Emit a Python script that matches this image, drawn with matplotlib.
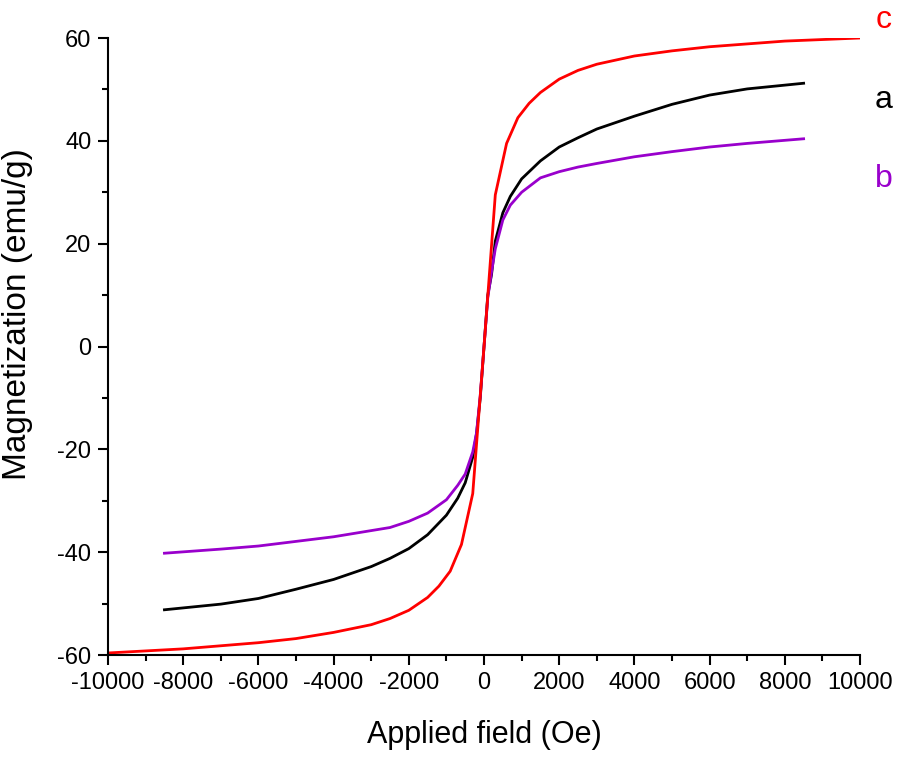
import matplotlib as mpl
mpl.use('Agg')
import matplotlib.pyplot as plt
from matplotlib.ticker import MultipleLocator

plt.rcParams['font.family'] = ['Liberation Sans', 'DejaVu Sans']
plt.rcParams['axes.unicode_minus'] = False

# sample a (black)
a_x = [-8500, -7000, -6000, -5000, -4000, -3000, -2500, -2000, -1500, -1000, -700, -500, -300, -200, -100,
       0, 100, 200, 300, 500, 700, 1000, 1500, 2000, 2500, 3000, 4000, 5000, 6000, 7000, 8500]
a_y = [-51.2, -50.1, -49.0, -47.2, -45.3, -42.8, -41.2, -39.3, -36.6, -32.8, -29.5, -26.5, -21.5, -17.0, -10.0,
       0.0, 10.0, 14.0, 20.5, 26.0, 29.2, 32.6, 36.1, 38.8, 40.6, 42.3, 44.8, 47.1, 48.9, 50.1, 51.2]

# sample b (purple)
b_x = [-8500, -7000, -6000, -5000, -4000, -3000, -2500, -2000, -1500, -1000, -700, -500, -300, -200, -100,
       0, 100, 200, 300, 500, 700, 1000, 1500, 2000, 2500, 3000, 4000, 5000, 6000, 7000, 8500]
b_y = [-40.2, -39.4, -38.8, -37.9, -37.0, -35.8, -35.2, -34.0, -32.4, -29.8, -27.0, -24.8, -20.5, -16.8, -9.5,
       0.0, 9.5, 14.5, 19.0, 24.6, 27.5, 30.0, 32.8, 34.0, 34.9, 35.6, 36.9, 37.9, 38.8, 39.5, 40.4]

# sample c (red)
c_x = [-10000, -8000, -6000, -5000, -4000, -3000, -2500, -2000, -1500, -1200, -900, -600, -300,
       0, 300, 600, 900, 1200, 1500, 2000, 2500, 3000, 4000, 5000, 6000, 8000, 10000]
c_y = [-59.6, -58.8, -57.6, -56.8, -55.6, -54.1, -52.9, -51.3, -48.8, -46.6, -43.7, -38.5, -28.6,
       0.0, 29.5, 39.5, 44.5, 47.3, 49.4, 52.0, 53.7, 54.9, 56.5, 57.5, 58.3, 59.4, 60.0]

fig = plt.figure(figsize=(8.98, 7.57), dpi=100)
ax = fig.add_axes([0.1203, 0.1347, 0.8374, 0.8151])

ax.plot(a_x, a_y, color='black', lw=2)
ax.plot(b_x, b_y, color='#9900CC', lw=2)
ax.plot(c_x, c_y, color='#FF0000', lw=2)

ax.set_xlim(-10000, 10000)
ax.set_ylim(-60, 60)
ax.xaxis.set_major_locator(MultipleLocator(2000))
ax.xaxis.set_minor_locator(MultipleLocator(1000))
ax.yaxis.set_major_locator(MultipleLocator(20))
ax.yaxis.set_minor_locator(MultipleLocator(10))

for s in ['top', 'right']:
    ax.spines[s].set_visible(False)
for s in ['left', 'bottom']:
    ax.spines[s].set_linewidth(1.5)
ax.tick_params(which='major', direction='out', length=7, width=1.5, labelsize=17, pad=5)
ax.tick_params(which='minor', direction='out', length=4.5, width=1.5)

ax.set_xlabel('Applied field (Oe)', fontsize=22)
ax.xaxis.set_label_coords(0.5, -0.105)
ax.set_ylabel('Magnetization (emu/g)', fontsize=24)
ax.yaxis.set_label_coords(-0.1, 0.553)

fig.text(884/898, 1 - 28/757, 'c', color='#FF0000', fontsize=23, ha='center', va='baseline')
fig.text(884/898, 1 - 108/757, 'a', color='black', fontsize=23, ha='center', va='baseline')
fig.text(884/898, 1 - 187/757, 'b', color='#9900CC', fontsize=23, ha='center', va='baseline')

fig.savefig('out.png', dpi=100)
